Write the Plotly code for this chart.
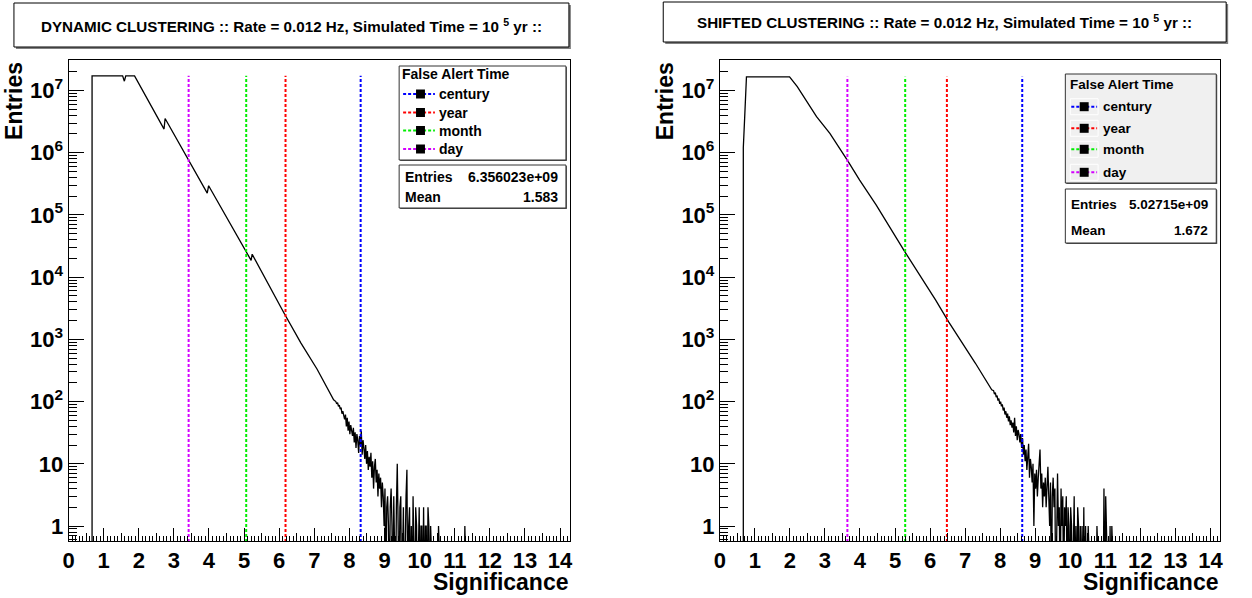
import plotly.graph_objects as go

W, H = 1252, 598
FONT = "Liberation Sans, Arial, Helvetica, sans-serif"

# ---------------- DYNAMIC CLUSTERING ----------------
# smooth part of the significance distribution (polyline vertices)
dyn_knot_sig = [0.67, 0.67, 1.54, 1.59, 1.63, 1.88, 2.72, 2.75, 3.95, 3.99,
                5.20, 5.23, 6.14, 6.62, 7.08, 7.55]
dyn_knot_entries = [0, 1.72e7, 1.72e7, 1.41e7, 1.72e7, 1.72e7, 2.40e6, 3.55e6,
                    2.24e5, 2.95e5, 1.86e4, 2.34e4, 2.63e3, 871, 331, 107]
# statistically limited tail, fixed-width bins starting at dyn_tail_start
dyn_tail_start = 7.60
dyn_tail_counts = [
    100, 92, 96, 84, 88, 76, 80, 64, 70, 58,
    52, 62, 40, 55, 34, 48, 30, 42, 36, 28,
    38, 22, 32, 18, 30, 24, 15, 28, 20, 34,
    14, 24, 18, 12, 20, 10, 16, 8, 13, 9,
    15, 6, 11, 4, 9, 12, 5, 8, 3, 7,
    4, 6, 2, 5, 3, 1, 4, 0, 2, 3,
    1, 0, 2, 4, 1, 0, 3, 1, 0, 2,
    10, 1, 0, 2, 3, 0, 1, 2, 0, 1,
    3, 8, 0, 1, 2, 0, 1, 0, 3, 1,
    0, 2, 1, 0, 1, 2, 0, 1, 1, 0,
    2, 0, 1, 1, 0, 2, 1, 0, 1, 0,
    0, 0, 0, 0, 0, 0, 0, 1, 0, 0,
    0, 0, 0, 0, 0, 0, 0, 0, 0, 0,
    0, 0, 0, 0, 0, 0, 0, 0, 0, 0,
    0, 0, 0, 0, 0, 0, 0, 1, 0, 0,
]
dyn_alert_sig = [8.32, 6.18, 5.06, 3.42]
dyn_stats = ["6.356023e+09", "1.583"]

# ---------------- SHIFTED CLUSTERING ----------------
shf_knot_sig = [0.67, 0.67, 0.71, 0.76, 1.99, 2.21, 2.76, 3.14, 3.66, 3.99,
                4.46, 5.29, 6.16, 6.53, 7.29, 7.76]
shf_knot_entries = [0, 1.20e6, 3.80e6, 1.66e7, 1.66e7, 1.15e7, 3.80e6, 2.04e6,
                    7.24e5, 3.63e5, 1.45e5, 2.51e4, 4.27e3, 1.91e3, 417, 155]
shf_tail_start = 7.80
shf_tail_counts = [
    150, 132, 140, 118, 125, 104, 112, 92, 100, 84,
    90, 72, 80, 62, 70, 55, 64, 48, 58, 42,
    50, 38, 46, 32, 55, 28, 40, 24, 35, 30,
    22, 30, 18, 26, 14, 20, 11, 17, 8, 14,
    21, 6, 12, 9, 5, 10, 1, 7, 4, 8,
    3, 6, 12, 17, 4, 7, 2, 5, 3, 6,
    2, 4, 9, 3, 1, 5, 0, 3, 6, 2,
    4, 0, 3, 7, 1, 2, 0, 4, 1, 3,
    0, 2, 1, 3, 0, 2, 1, 0, 2, 1,
    0, 1, 3, 0, 1, 0, 2, 1, 0, 1,
    0, 1, 0, 2, 0, 1, 0, 0, 1, 0,
    0, 0, 0, 0, 0, 0, 0, 0, 1, 0,
    0, 0, 0, 0, 0, 0, 4, 0, 3, 0,
    0, 0, 0, 1, 0, 1, 0, 0, 0, 0,
]
shf_alert_sig = [8.63, 6.48, 5.29, 3.64]
shf_stats = ["5.02715e+09", "1.672"]

tail_bin = 0.025
alert_names = ["century", "year", "month", "day"]
alert_colors = ["#0000ff", "#ff0000", "#00ee00", "#d400ff"]
y_tick_vals = [1, 10, 1e2, 1e3, 1e4, 1e5, 1e6, 1e7]
y_tick_text = ["<b>1</b>", "<b>10</b>", "<b>10<sup>2</sup></b>", "<b>10<sup>3</sup></b>",
               "<b>10<sup>4</sup></b>", "<b>10<sup>5</sup></b>", "<b>10<sup>6</sup></b>",
               "<b>10<sup>7</sup></b>"]

ZERO_FLOOR = 0.05  # empty bins are drawn below the visible log range
PAD = 3            # inner padding plotly puts around annotation text


def px_x(x):
    return x / W


def px_y(y):
    return 1 - y / H


def note(text, x, y, xanchor, yanchor, size, angle=0, pad=True):
    if pad and angle == 0 and xanchor == "left":
        x -= PAD
    elif pad and angle == 0 and xanchor == "right":
        x += PAD
    return dict(text=text, x=px_x(x), y=px_y(y), xref="paper", yref="paper",
                xanchor=xanchor, yanchor=yanchor, showarrow=False, textangle=angle,
                font=dict(family=FONT, size=size, color="black"))


def hist_curve(knot_sig, knot_entries, tail_start, tail_counts):
    xs = list(knot_sig)
    ys = list(knot_entries)
    for i, c in enumerate(tail_counts):
        xs.append(tail_start + tail_bin * (i + 0.5))
        ys.append(c)
    ys = [v if v > 0 else ZERO_FLOOR for v in ys]
    return xs, ys


panels = [
    dict(title="DYNAMIC CLUSTERING :: Rate = 0.012 Hz, Simulated Time = 10 <sup>5</sup> yr ::",
         knots=(dyn_knot_sig, dyn_knot_entries), tail=(dyn_tail_start, dyn_tail_counts),
         alerts=dyn_alert_sig, stats=dyn_stats,
         frame=(63, 568), tbox=(8, 3, 567, 47), title_y=26,
         leg=(396, 66, 564, 160), leg_fill="white", leg_rows=[94, 112.5, 130.5, 149],
         leg_title_y=74, leg_x=(400, 432, 417.5, 437), leg_font=14,
         stat=(396, 165, 564, 208), stat_rows=[176.5, 197.5], stat_x=(403, 555)),
    dict(title="SHIFTED CLUSTERING :: Rate = 0.012 Hz, Simulated Time = 10 <sup>5</sup> yr ::",
         knots=(shf_knot_sig, shf_knot_entries), tail=(shf_tail_start, shf_tail_counts),
         alerts=shf_alert_sig, stats=shf_stats,
         frame=(719, 1223), tbox=(662, 2, 1229, 42), title_y=22,
         leg=(1067, 74, 1219, 183), leg_fill="#f0f0f0", leg_rows=[106.7, 128.3, 149.3, 172.3],
         leg_title_y=84.3, leg_x=(1073, 1099, 1086, 1105.5), leg_font=13.5,
         stat=(1067, 189, 1219, 243), stat_rows=[204, 230.5], stat_x=(1074, 1210)),
]

PLOT_TOP, PLOT_BOT = 60, 541
X_RANGE = [0, 14.28]
Y_RANGE = [-0.24, 7.49]

fig = go.Figure()
shapes = []
annotations = []
layout_axes = {}

minor_y = [m * 10 ** e for e in range(-1, 8) for m in range(2, 10)]
half_ticks = [k + 0.5 for k in range(15)]

for k, p in enumerate(panels):
    n = k + 1
    xa = "x" if n == 1 else f"x{n}"
    ya = "y" if n == 1 else f"y{n}"
    xa_half = f"x{n + 2}"
    x0, x1 = p["frame"]

    layout_axes[f"xaxis{'' if n == 1 else n}"] = dict(
        domain=[px_x(x0), px_x(x1)], anchor=ya, range=X_RANGE,
        tickmode="linear", tick0=0, dtick=1, ticks="inside", ticklen=13,
        tickwidth=1, tickcolor="black", showline=True, linecolor="black",
        linewidth=1, mirror=True, showgrid=False, zeroline=False,
        tickfont=dict(family=FONT, size=22, color="black", weight="bold"),
        minor=dict(ticks="inside", ticklen=5, tickwidth=1, tickcolor="black",
                   tick0=0, dtick=0.1, showgrid=False),
    )
    layout_axes[f"yaxis{'' if n == 1 else n}"] = dict(
        domain=[px_y(PLOT_BOT), px_y(PLOT_TOP)], anchor=xa, type="log",
        range=Y_RANGE, tickmode="array", tickvals=y_tick_vals, ticktext=y_tick_text,
        ticks="inside", ticklen=15, tickwidth=1, tickcolor="black",
        showline=True, linecolor="black", linewidth=1, mirror=True,
        showgrid=False, zeroline=False,
        tickfont=dict(family=FONT, size=22, color="black", weight="bold"),
        minor=dict(tickmode="array", tickvals=minor_y, ticks="inside", ticklen=8,
                   tickwidth=1, tickcolor="black", showgrid=False),
    )
    # half-unit ticks on the significance axis
    layout_axes[f"xaxis{n + 2}"] = dict(
        overlaying=xa, anchor=ya, range=X_RANGE, tickmode="array",
        tickvals=half_ticks, ticks="inside", ticklen=8, tickwidth=1,
        tickcolor="black", showticklabels=False, showline=False,
        showgrid=False, zeroline=False,
    )
    fig.add_trace(go.Scatter(x=[-5], y=[1], xaxis=xa_half, yaxis=ya, mode="lines",
                             showlegend=False, hoverinfo="skip"))

    # histogram
    hx, hy = hist_curve(*p["knots"], *p["tail"])
    top = max(p["knots"][1])
    fig.add_trace(go.Scatter(x=hx, y=hy, xaxis=xa, yaxis=ya, mode="lines",
                             line=dict(color="black", width=1.3),
                             showlegend=False, hoverinfo="skip"))
    # false alert thresholds
    for s, c in zip(p["alerts"], alert_colors):
        fig.add_trace(go.Scatter(x=[s, s], y=[ZERO_FLOOR, top], xaxis=xa, yaxis=ya,
                                 mode="lines", line=dict(color=c, width=2, dash="3px,2px"),
                                 showlegend=False, hoverinfo="skip"))

    # title pave with shadow
    tx0, ty0, tx1, ty1 = p["tbox"]
    shapes.append(dict(type="rect", xref="paper", yref="paper",
                       x0=px_x(tx0 + 2), x1=px_x(tx1 + 2), y0=px_y(ty1 + 2), y1=px_y(ty0 + 2),
                       fillcolor="#808080", line=dict(width=0)))
    shapes.append(dict(type="rect", xref="paper", yref="paper",
                       x0=px_x(tx0), x1=px_x(tx1), y0=px_y(ty1), y1=px_y(ty0),
                       fillcolor="white", line=dict(color="black", width=1)))
    annotations.append(note(f"<b>{p['title']}</b>", (tx0 + tx1) / 2, p["title_y"],
                            "center", "middle", 15.2))

    # axis titles
    annotations.append(note("<b>Entries</b>", x0 - 55, PLOT_TOP, "center", "top", 23, -90))
    annotations.append(note("<b>Significance</b>", x1, 582, "right", "middle", 23, pad=False))

    # legend pave
    lx0, ly0, lx1, ly1 = p["leg"]
    shapes.append(dict(type="rect", xref="paper", yref="paper",
                       x0=px_x(lx0 + 1), x1=px_x(lx1 + 1), y0=px_y(ly1 + 1), y1=px_y(ly0 + 1),
                       fillcolor="#555555", line=dict(width=0)))
    shapes.append(dict(type="rect", xref="paper", yref="paper",
                       x0=px_x(lx0), x1=px_x(lx1), y0=px_y(ly1), y1=px_y(ly0),
                       fillcolor=p["leg_fill"], line=dict(color="#333333", width=1)))
    annotations.append(note("<b>False Alert Time</b>", p["leg_x"][0], p["leg_title_y"],
                            "left", "middle", p["leg_font"]))
    sx0, sx1, mx, txt_x = p["leg_x"]
    for name, c, ry in zip(alert_names, alert_colors, p["leg_rows"]):
        if p["leg_fill"] != "white":
            shapes.append(dict(type="rect", xref="paper", yref="paper",
                               x0=px_x(sx0 - 1), x1=px_x(sx1 + 1), y0=px_y(ry + 8), y1=px_y(ry - 8),
                               fillcolor="rgba(0,0,0,0)", line=dict(color="white", width=1)))
        shapes.append(dict(type="line", xref="paper", yref="paper",
                           x0=px_x(sx0), x1=px_x(sx1), y0=px_y(ry), y1=px_y(ry),
                           line=dict(color=c, width=2, dash="3px,2px")))
        shapes.append(dict(type="rect", xref="paper", yref="paper",
                           x0=px_x(mx - 4.5), x1=px_x(mx + 4.5), y0=px_y(ry + 4.5), y1=px_y(ry - 4.5),
                           fillcolor="black", line=dict(width=0)))
        annotations.append(note(f"<b>{name}</b>", txt_x, ry, "left", "middle", p["leg_font"]))

    # statistics pave
    bx0, by0, bx1, by1 = p["stat"]
    shapes.append(dict(type="rect", xref="paper", yref="paper",
                       x0=px_x(bx0 + 1), x1=px_x(bx1 + 1), y0=px_y(by1 + 1), y1=px_y(by0 + 1),
                       fillcolor="#555555", line=dict(width=0)))
    shapes.append(dict(type="rect", xref="paper", yref="paper",
                       x0=px_x(bx0), x1=px_x(bx1), y0=px_y(by1), y1=px_y(by0),
                       fillcolor="white", line=dict(color="#333333", width=1)))
    for label, val, ry in zip(["Entries", "Mean"], p["stats"], p["stat_rows"]):
        annotations.append(note(f"<b>{label}</b>", p["stat_x"][0], ry, "left", "middle",
                                p["leg_font"]))
        annotations.append(note(f"<b>{val}</b>", p["stat_x"][1], ry, "right", "middle",
                                p["leg_font"]))

fig.update_layout(
    width=W, height=H, autosize=False,
    margin=dict(l=0, r=0, t=0, b=0),
    paper_bgcolor="white", plot_bgcolor="white",
    showlegend=False, shapes=shapes, annotations=annotations,
    **layout_axes,
)

fig.write_html("out.html")
